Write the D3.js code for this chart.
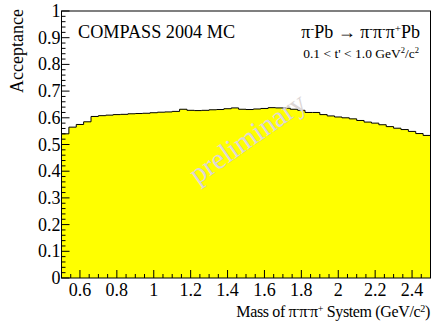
<!DOCTYPE html>
<html><head><meta charset="utf-8">
<script src="https://cdn.jsdelivr.net/npm/d3@7"></script>
<style>body{margin:0;background:#fff}svg{display:block}text{font-family:"Liberation Serif","Times New Roman",Times,serif}</style>
</head><body>
<script>
const binStart = 0.5, binWidth = 0.04;
const acceptance = [0.540,0.565,0.575,0.585,0.605,0.608,0.610,0.612,0.613,0.615,0.616,0.617,0.619,0.621,0.622,0.624,0.632,0.628,0.627,0.628,0.630,0.631,0.634,0.637,0.632,0.631,0.633,0.635,0.638,0.637,0.636,0.632,0.628,0.620,0.620,0.612,0.607,0.603,0.600,0.596,0.590,0.584,0.580,0.574,0.567,0.561,0.556,0.549,0.541,0.534];
const xTicks = [0.6,0.8,1,1.2,1.4,1.6,1.8,2,2.2,2.4];
const yTicks = [0,0.1,0.2,0.3,0.4,0.5,0.6,0.7,0.8,0.9,1];

const W=432,H=323, L=61.5, R=430.5, T=11, B=278;
const svg=d3.select("body").append("svg").attr("width",W).attr("height",H);
const x=d3.scaleLinear().domain([0.5,2.5]).range([L,R]);
const y=d3.scaleLinear().domain([0,1]).range([B,T]);

const pts=[[binStart,0]];
acceptance.forEach((v,i)=>{pts.push([binStart+i*binWidth,v]);pts.push([binStart+(i+1)*binWidth,v]);});
pts.push([binStart+acceptance.length*binWidth,0]);
const line=d3.line().x(d=>x(d[0])).y(d=>y(d[1]));
svg.append("path").attr("d",line(pts)).attr("fill","#ffff00").attr("stroke","none");
svg.append("path").attr("d",line(pts.slice(1,-1))).attr("fill","none").attr("stroke","#000").attr("stroke-width",1);

svg.append("text").attr("transform","translate(253,146) rotate(-35)").attr("text-anchor","middle")
 .attr("font-size",29).attr("fill","#dcd6d6").text("preliminary");

svg.append("rect").attr("x",L).attr("y",T).attr("width",R-L).attr("height",B-T).attr("fill","none").attr("stroke","#000").attr("stroke-width",1);

const g=svg.append("g").attr("stroke","#000").attr("stroke-width",1);
d3.range(0.5,2.5001,0.05).forEach(v=>{
  const major=xTicks.some(t=>Math.abs(t-v)<1e-6);
  g.append("line").attr("x1",x(v)).attr("x2",x(v)).attr("y1",B).attr("y2",B-(major?8:4));
});
d3.range(0,1.0001,0.02).forEach(v=>{
  const major=yTicks.some(t=>Math.abs(t-v)<1e-6);
  g.append("line").attr("x1",L).attr("x2",L+(major?8:4)).attr("y1",y(v)).attr("y2",y(v));
});
svg.append("g").selectAll("text").data(xTicks).join("text").attr("x",d=>x(d)).attr("y",B+18)
 .attr("text-anchor","middle").attr("font-size",18).text(d=>d3.format("~g")(d));
svg.append("g").selectAll("text").data(yTicks).join("text").attr("x",L-1).attr("y",d=>y(d)+6)
 .attr("text-anchor","end").attr("font-size",18).text(d=>d3.format("~g")(d));

svg.append("text").attr("transform","translate(23,9) rotate(-90)").attr("text-anchor","end")
 .attr("font-size",18).text("Acceptance");

function richText(sel, parts, supSize){
  parts.forEach(p=>{
    if(p.sup) sel.append("tspan").attr("baseline-shift","super").attr("font-size",supSize).text(p.sup);
    else sel.append("tspan").text(p.t);
  });
}
const xt=svg.append("text").attr("x",430).attr("y",317).attr("text-anchor","end").attr("font-size",16)
 .attr("letter-spacing",-0.35);
richText(xt,[{t:"Mass of π"},{sup:"-"},{t:"π"},{sup:"-"},{t:"π"},{sup:"+"},{t:" System (GeV/c"},{sup:"2"},{t:")"}],10);

svg.append("text").attr("x",78).attr("y",38).attr("font-size",18.2).text("COMPASS 2004 MC");
const r1=svg.append("text").attr("x",420).attr("y",38).attr("text-anchor","end").attr("font-size",18);
richText(r1,[{t:"π"},{sup:"-"},{t:"Pb → π"},{sup:"-"},{t:"π"},{sup:"-"},{t:"π"},{sup:"+"},{t:"Pb"}],11);
const r2=svg.append("text").attr("x",419).attr("y",58).attr("text-anchor","end").attr("font-size",13.5);
richText(r2,[{t:"0.1 < t' < 1.0 GeV"},{sup:"2"},{t:"/c"},{sup:"2"}],8.5);
</script>
</body></html>
